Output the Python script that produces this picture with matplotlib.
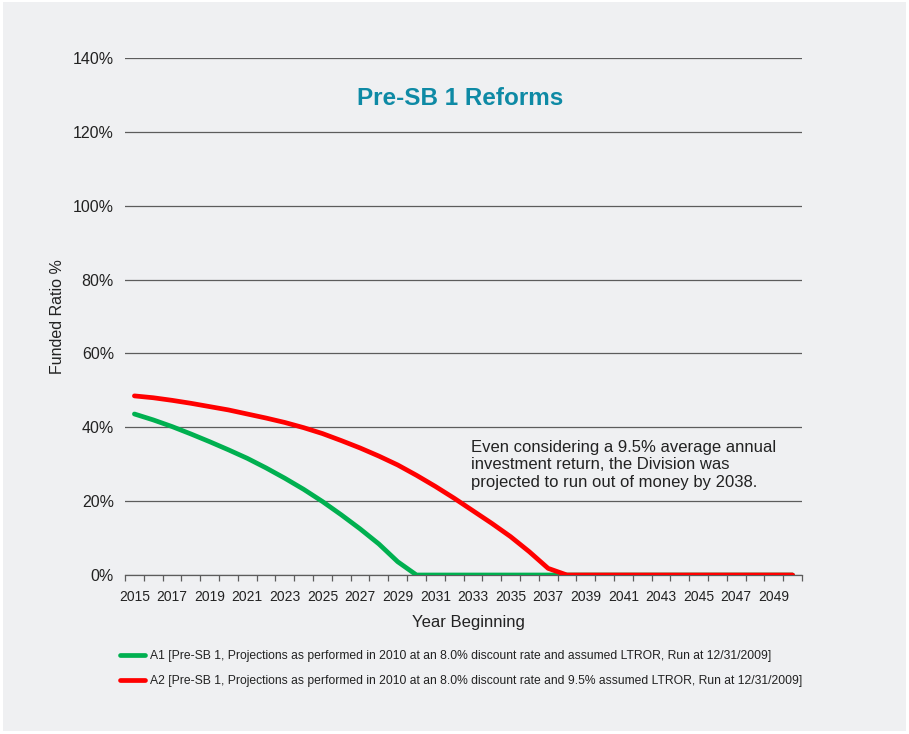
import matplotlib.pyplot as plt
import numpy as np
from matplotlib.patches import Rectangle

plt.rcParams['font.family'] = ['Liberation Sans', 'DejaVu Sans']

# projection years and funded ratios (%)
years = list(range(2015, 2051))
a1_funded = [43.6, 42.0, 40.2, 38.2, 36.1, 33.9, 31.6, 29.0, 26.2, 23.2,
             19.9, 16.3, 12.5, 8.4, 3.6, 0.0, 0.0, 0.0, 0.0, 0.0,
             0.0, 0.0, 0.0, 0.0, 0.0, 0.0, 0.0, 0.0, 0.0, 0.0,
             0.0, 0.0, 0.0, 0.0, 0.0, 0.0]
a2_funded = [48.5, 48.0, 47.3, 46.5, 45.6, 44.7, 43.6, 42.5, 41.3, 39.9,
             38.3, 36.4, 34.4, 32.2, 29.8, 27.0, 24.0, 20.8, 17.4, 14.0,
             10.4, 6.3, 1.8, 0.0, 0.0, 0.0, 0.0, 0.0, 0.0, 0.0,
             0.0, 0.0, 0.0, 0.0, 0.0, 0.0]
a1_label = ('A1 [Pre-SB 1, Projections as performed in 2010 at an 8.0% discount '
            'rate and assumed LTROR, Run at 12/31/2009]')
a2_label = ('A2 [Pre-SB 1, Projections as performed in 2010 at an 8.0% discount '
            'rate and 9.5% assumed LTROR, Run at 12/31/2009]')
y_ticks = [0, 20, 40, 60, 80, 100, 120, 140]

W, H = 909, 734
fig = plt.figure(figsize=(W / 100, H / 100), dpi=100)
fig.patch.set_facecolor('white')
fig.add_artist(Rectangle((3 / W, 3 / H), 903 / W, 729 / H, transform=fig.transFigure,
                         facecolor='#eff0f2', edgecolor='none', zorder=-10))

ax = fig.add_axes([125 / W, 159 / H, 677 / W, 517 / H])
ax.set_facecolor('none')

x = np.arange(len(years))
ax.plot(x, a1_funded, color='#00b050', lw=3.4, solid_capstyle='round',
        solid_joinstyle='round', label=a1_label, zorder=3)
ax.plot(x, a2_funded, color='#ff0000', lw=3.4, solid_capstyle='round',
        solid_joinstyle='round', label=a2_label, zorder=4)

ax.set_xlim(-0.5, len(years) - 0.5)
ax.set_ylim(0, 140)
ax.set_yticks(y_ticks)
ax.set_yticklabels([f'{v}%' for v in y_ticks])
ax.yaxis.grid(True, color='#5c5c5c', lw=0.9)
ax.set_axisbelow(True)
for s in ['top', 'right', 'left']:
    ax.spines[s].set_visible(False)
ax.spines['bottom'].set_color('#5c5c5c')
ax.spines['bottom'].set_linewidth(0.9)

# labels every other year, tick marks on the category boundaries
ax.set_xticks(x[::2])
ax.set_xticklabels([str(y) for y in years[::2]])
ax.set_xticks(np.arange(-0.5, len(years)), minor=True)
ax.tick_params(axis='x', which='major', length=0, pad=10.5, labelsize=10, labelcolor='#222222')
ax.tick_params(axis='x', which='minor', length=4, width=0.9, color='#5c5c5c')
ax.tick_params(axis='y', length=0, pad=8, labelsize=11.5, labelcolor='#222222')

ax.set_xlabel('Year Beginning', fontsize=12, color='#222222')
ax.xaxis.set_label_coords(0.508, -0.077)
ax.set_ylabel('Funded Ratio %', fontsize=11.5, color='#222222')
ax.yaxis.set_label_coords(-0.088, 0.5)

ax.text(0.495, 0.922, 'Pre-SB 1 Reforms', transform=ax.transAxes, ha='center', va='center',
        fontsize=17.5, fontweight='bold', color='#0e8aa5')
ax.text(0.511, 0.262, 'Even considering a 9.5% average annual\ninvestment return, the Division was\n'
        'projected to run out of money by 2038.', transform=ax.transAxes, ha='left', va='top',
        fontsize=12, color='#222222', linespacing=1.24)

fig.legend(loc='upper left', bbox_to_anchor=(120 / W, (H - 650) / H), frameon=False,
           fontsize=8.75, handlelength=2.05, handletextpad=0.45, labelspacing=1.1,
           borderpad=0, borderaxespad=0, labelcolor='#222222')

fig.savefig('out.png', dpi=100)
